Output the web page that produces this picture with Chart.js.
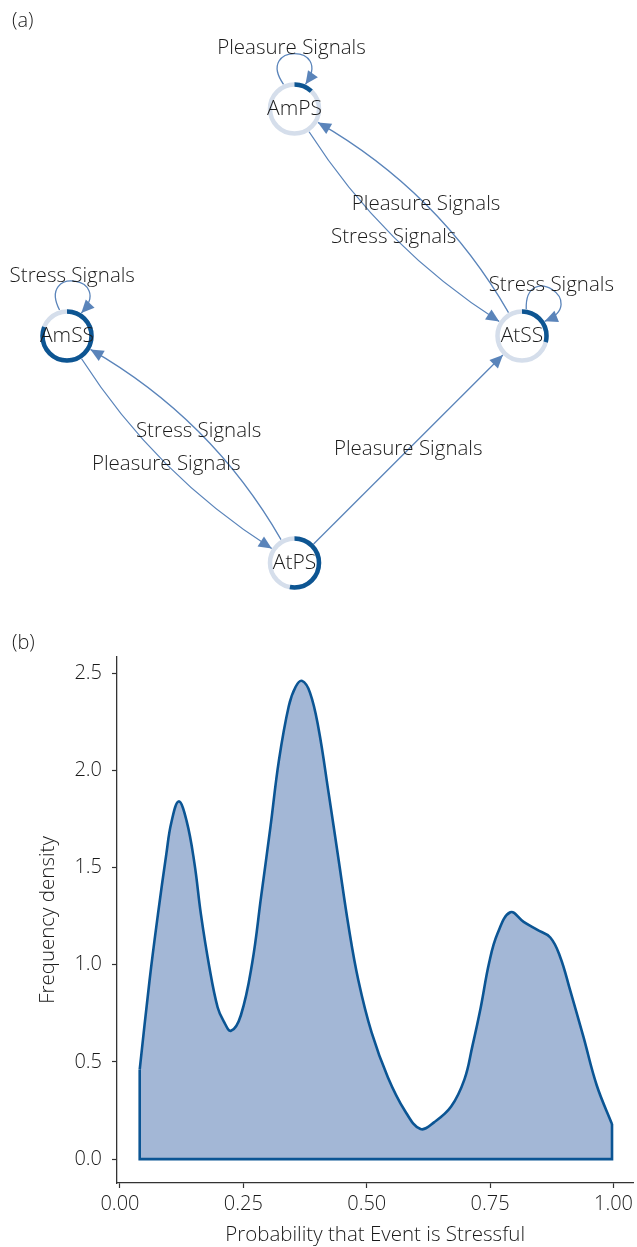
<!DOCTYPE html>
<html>
<head>
<meta charset="utf-8">
<script src="https://cdn.jsdelivr.net/npm/chart.js@4.4.1/dist/chart.umd.min.js"></script>
<style>
  html, body { margin: 0; padding: 0; background: #fff; }
  body { width: 637px; height: 1247px; position: relative; overflow: hidden;
         font-family: 'Open Sans', sans-serif; font-weight: 300; color: #1a1a1a; }
  #net  { position: absolute; left: 0; top: 0; }
  #dens { position: absolute; left: 0; top: 610px; }
  .panel { position: absolute; left: 12px; font-size: 20px; line-height: 22px; }
</style>
</head>
<body>
<canvas id="net" width="637" height="610"></canvas>
<canvas id="dens" width="637" height="637"></canvas>
<div class="panel" style="top:9px">(a)</div>
<div class="panel" style="top:631px">(b)</div>
<script>
// ---- (a) transition network ----
const nodeNames = ['AmPS', 'AmSS', 'AtSS', 'AtPS'];
const nodeX = [0, -1, 1, 0];
const nodeY = [1, 0, 0, -1];
const nodeShare = [0.12, 0.81, 0.29, 0.53];

const edgeFrom  = [0, 1, 2, 0, 2, 1, 3, 3];
const edgeTo    = [0, 1, 2, 2, 0, 3, 1, 2];
const edgeLabel = ['Pleasure Signals', 'Stress Signals', 'Stress Signals', 'Stress Signals',
                   'Pleasure Signals', 'Pleasure Signals', 'Stress Signals', 'Pleasure Signals'];

// ---- (b) density of P(event is stressful) ----
const densityX = [0.040, 0.060, 0.077, 0.094, 0.104, 0.119, 0.135, 0.151, 0.164, 0.181, 0.198, 0.210,
                  0.225, 0.245, 0.268, 0.286, 0.305, 0.322, 0.342, 0.356, 0.369, 0.385, 0.402, 0.423,
                  0.443, 0.463, 0.483, 0.510, 0.543, 0.577, 0.609, 0.637, 0.671, 0.698, 0.714, 0.731,
                  0.748, 0.765, 0.791, 0.818, 0.845, 0.872, 0.892, 0.912, 0.939, 0.966, 0.997];
const densityY = [0.46, 0.92, 1.26, 1.57, 1.73, 1.84, 1.74, 1.52, 1.26, 0.99, 0.78, 0.71,
                  0.66, 0.74, 1.01, 1.35, 1.71, 2.05, 2.33, 2.43, 2.46, 2.40, 2.22, 1.88,
                  1.54, 1.20, 0.92, 0.65, 0.42, 0.25, 0.155, 0.19, 0.27, 0.41, 0.58, 0.78,
                  1.01, 1.16, 1.27, 1.22, 1.18, 1.14, 1.04, 0.87, 0.63, 0.38, 0.18];
const xTicks = [0, 0.25, 0.5, 0.75, 1];
const yTicks = [0, 0.5, 1, 1.5, 2, 2.5];

// drawing style for the network
const edgeBend = [0, 0, 0, 0.11, 0.135, 0.11, 0.135, 0];   // fraction of edge length
const loopTurn = [0, 8, 33, 0];                          // degrees clockwise from up
const FONT = "'Open Sans', sans-serif";
const TEXT_COL = '#1a1a1a';
const EDGE_COL = '#5A84BA';
const RING_LIGHT = '#D5DEEB';
const RING_DARK = '#0D5592';
const RING_R = 24.5, RING_W = 4.5, NODE_OUT = 27;

function arrowHead(ctx, tip, ux, uy) {
  const L = 13, W = 6;
  const bx = tip.x - ux * L, by = tip.y - uy * L;
  ctx.beginPath();
  ctx.moveTo(tip.x, tip.y);
  ctx.lineTo(bx - uy * W, by + ux * W);
  ctx.lineTo(bx + uy * W, by - ux * W);
  ctx.closePath();
  ctx.fill();
}
function unit(dx, dy) { const l = Math.hypot(dx, dy); return { x: dx / l, y: dy / l }; }

const netPlugin = {
  id: 'netDraw',
  afterDatasetsDraw(chart) {
    const { ctx } = chart;
    const sx = chart.scales.x, sy = chart.scales.y;
    const P = i => ({ x: sx.getPixelForValue(nodeX[i]), y: sy.getPixelForValue(nodeY[i]) });
    const labels = [];
    ctx.save();
    ctx.strokeStyle = EDGE_COL;
    ctx.fillStyle = EDGE_COL;
    ctx.lineWidth = 1.3;
    edgeFrom.forEach((f, k) => {
      const t = edgeTo[k];
      if (f === t) {
        const c = P(f);
        const dir = a => { const r = a * Math.PI / 180; return { x: Math.sin(r), y: -Math.cos(r) }; };
        const rot = loopTurn[f];
        const d0 = dir(rot - 24), d3 = dir(rot + 24), o0 = dir(rot - 35), o3 = dir(rot + 35);
        const kk = 50;
        const p0 = { x: c.x + NODE_OUT * d0.x, y: c.y + NODE_OUT * d0.y };
        const p3 = { x: c.x + NODE_OUT * d3.x, y: c.y + NODE_OUT * d3.y };
        const p1 = { x: p0.x + kk * o0.x, y: p0.y + kk * o0.y };
        const p2 = { x: p3.x + kk * o3.x, y: p3.y + kk * o3.y };
        ctx.beginPath();
        ctx.moveTo(p0.x, p0.y);
        ctx.bezierCurveTo(p1.x, p1.y, p2.x, p2.y, p3.x, p3.y);
        ctx.stroke();
        const u = unit(p3.x - p2.x, p3.y - p2.y);
        arrowHead(ctx, p3, u.x, u.y);
        const up = dir(rot);
        labels.push({ text: edgeLabel[k],
          x: (p0.x + 3 * p1.x + 3 * p2.x + p3.x) / 8 + up.x * 4 - 3,
          y: (p0.y + 3 * p1.y + 3 * p2.y + p3.y) / 8 + up.y * 4 - 1 });
      } else {
        const A = P(f), B = P(t);
        const dx = B.x - A.x, dy = B.y - A.y, len = Math.hypot(dx, dy);
        const off = edgeBend[k] * len;
        const ctrl = { x: (A.x + B.x) / 2 - dy / len * off, y: (A.y + B.y) / 2 + dx / len * off };
        const us = unit(ctrl.x - A.x, ctrl.y - A.y);
        const ue = unit(ctrl.x - B.x, ctrl.y - B.y);
        const s = { x: A.x + NODE_OUT * us.x, y: A.y + NODE_OUT * us.y };
        const e = { x: B.x + NODE_OUT * ue.x, y: B.y + NODE_OUT * ue.y };
        ctx.beginPath();
        ctx.moveTo(s.x, s.y);
        ctx.quadraticCurveTo(ctrl.x, ctrl.y, e.x, e.y);
        ctx.stroke();
        arrowHead(ctx, e, -ue.x, -ue.y);
        labels.push({ text: edgeLabel[k],
          x: 0.25 * s.x + 0.5 * ctrl.x + 0.25 * e.x,
          y: 0.25 * s.y + 0.5 * ctrl.y + 0.25 * e.y });
      }
    });
    // nodes: light ring with the dark share arc from 12 o'clock
    nodeNames.forEach((name, i) => {
      const c = P(i);
      ctx.fillStyle = '#fff';
      ctx.beginPath(); ctx.arc(c.x, c.y, RING_R, 0, Math.PI * 2); ctx.fill();
      ctx.lineWidth = RING_W;
      ctx.strokeStyle = RING_LIGHT;
      ctx.beginPath(); ctx.arc(c.x, c.y, RING_R, 0, Math.PI * 2); ctx.stroke();
      ctx.strokeStyle = RING_DARK;
      ctx.beginPath();
      ctx.arc(c.x, c.y, RING_R, -Math.PI / 2, -Math.PI / 2 + Math.PI * 2 * nodeShare[i]);
      ctx.stroke();
    });
    ctx.fillStyle = TEXT_COL;
    ctx.textAlign = 'center';
    ctx.textBaseline = 'middle';
    ctx.font = "300 21px " + FONT;
    nodeNames.forEach((name, i) => { const c = P(i); ctx.fillText(name, c.x, c.y); });
    ctx.font = "300 20.5px " + FONT;
    labels.forEach(l => ctx.fillText(l.text, l.x, l.y));
    ctx.restore();
  }
};

new Chart(document.getElementById('net'), {
  type: 'scatter',
  data: { datasets: [{ data: nodeX.map((v, i) => ({ x: v, y: nodeY[i] })), pointRadius: 0 }] },
  options: {
    responsive: false, animation: false, devicePixelRatio: 1,
    layout: { padding: { left: 67, right: 115, top: 109, bottom: 47 } },
    scales: {
      x: { type: 'linear', min: -1, max: 1, display: false },
      y: { type: 'linear', min: -1, max: 1, display: false }
    },
    plugins: { legend: { display: false }, tooltip: { enabled: false } }
  },
  plugins: [netPlugin]
});

// ---- (b) ----
const curve = densityX.map((x, i) => ({ x, y: densityY[i] }));
const last = densityX.length - 1;
const outline = [
  { x: densityX[0], y: densityY[0] }, { x: densityX[0], y: 0 },
  { x: densityX[last], y: 0 }, { x: densityX[last], y: densityY[last] }
];
const LINE_COL = '#0B5594';
const tickFont = { family: FONT, size: 20, weight: 300, lineHeight: 1.2 };
const titleFont = { family: FONT, size: 20.5, weight: 300, lineHeight: 1.2 };
const axisCommon = {
  type: 'linear',
  grid: { drawOnChartArea: false, drawTicks: true, tickLength: 5, tickColor: '#333', tickWidth: 1.2 },
  border: { display: true, color: '#333', width: 1.3 }
};

new Chart(document.getElementById('dens'), {
  type: 'line',
  data: {
    datasets: [
      { data: curve, borderColor: LINE_COL, borderWidth: 2.6, backgroundColor: '#A3B7D6',
        fill: 'origin', pointRadius: 0, tension: 0.4, order: 1 },
      { data: outline, borderColor: LINE_COL, borderWidth: 2.6, fill: false, pointRadius: 0,
        tension: 0, borderJoinStyle: 'miter', order: 0 }
    ]
  },
  options: {
    responsive: false, animation: false, devicePixelRatio: 1,
    layout: { padding: { left: 0, right: 0, top: 47, bottom: 0 } },
    scales: {
      x: Object.assign({}, axisCommon, {
        min: -0.006, max: 1.04,
        afterBuildTicks: s => { s.ticks = xTicks.map(v => ({ value: v })); },
        afterFit: s => { s.height = 64; },
        ticks: { callback: v => Number(v).toFixed(2), font: tickFont, color: TEXT_COL, padding: 4,
                 maxRotation: 0, autoSkip: false },
        title: { display: true, text: 'Probability that Event is Stressful', font: titleFont,
                 color: TEXT_COL, padding: { top: 0, bottom: 0 } }
      }),
      y: Object.assign({}, axisCommon, {
        min: -0.123, max: 2.583,
        afterBuildTicks: s => { s.ticks = yTicks.map(v => ({ value: v })); },
        afterFit: s => { s.width = 117; },
        ticks: { callback: v => Number(v).toFixed(1), font: tickFont, color: TEXT_COL, padding: 10,
                 autoSkip: false },
        title: { display: true, text: 'Frequency density', font: titleFont,
                 color: TEXT_COL, padding: { top: 36, bottom: 0 } }
      })
    },
    plugins: { legend: { display: false }, tooltip: { enabled: false } }
  }
});
</script>
</body>
</html>
